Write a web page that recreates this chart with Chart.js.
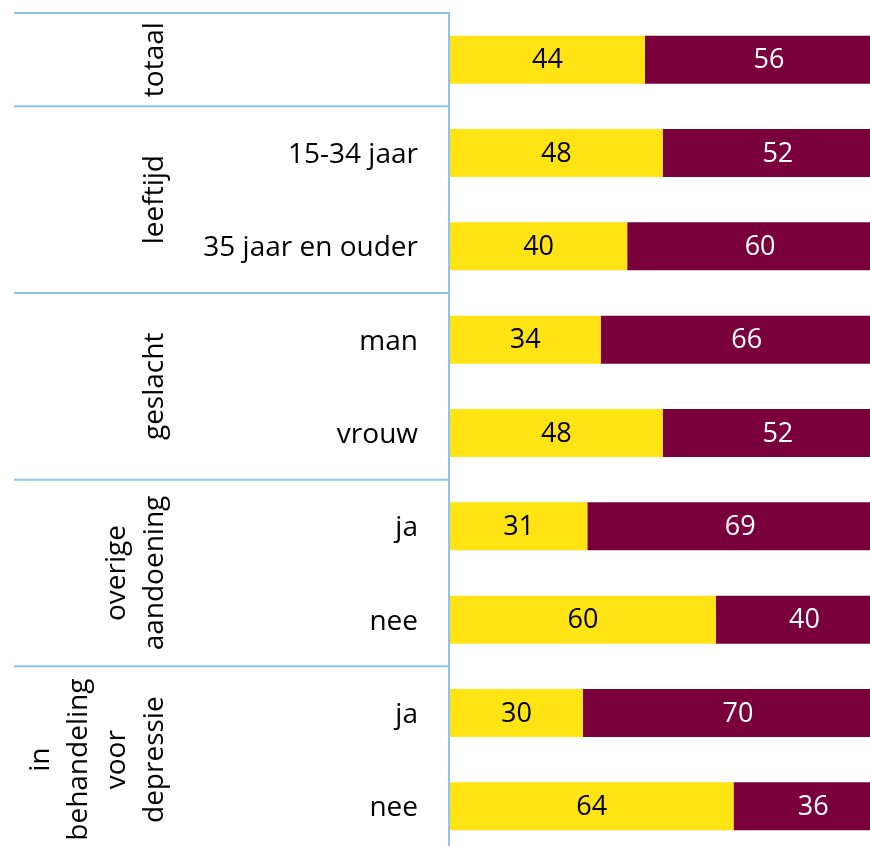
<!DOCTYPE html>
<html>
<head>
<meta charset="utf-8">
<script src="https://cdn.jsdelivr.net/npm/chart.js@4/dist/chart.umd.min.js"></script>
<style>
  html, body { margin: 0; padding: 0; overflow: hidden; background: #fff; }
  #wrap { width: 870px; height: 846px; overflow: hidden; }
</style>
</head>
<body>
<div id="wrap"><canvas id="chart" width="900" height="860"></canvas></div>
<script>
// Data
const categories = ["", "15-34 jaar", "35 jaar en ouder", "man", "vrouw", "ja", "nee", "ja", "nee"];
const yellowValues = [44, 48, 40, 34, 48, 31, 60, 30, 64];
const maroonValues = [56, 52, 60, 66, 52, 69, 40, 70, 36];
const groupLabels = [["totaal"], ["leeftijd"], ["geslacht"], ["overige", "aandoening"], ["in", "behandeling", "voor", "depressie"]];
const groupSizes = [1, 2, 2, 2, 2];

const FONT = "'Open Sans', sans-serif";
const BLUE = "#8cc4ee";

// Waarden in het midden van de balken
const valueLabels = {
  id: "valueLabels",
  afterDatasetsDraw(chart) {
    const ctx = chart.ctx;
    ctx.save();
    ctx.font = "27px " + FONT;
    ctx.textAlign = "center";
    ctx.textBaseline = "middle";
    chart.data.datasets.forEach((ds, i) => {
      const meta = chart.getDatasetMeta(i);
      ctx.fillStyle = ds.labelColor;
      meta.data.forEach((el, j) => {
        ctx.fillText(String(ds.data[j]), (el.x + el.base) / 2, el.y + 1);
      });
    });
    ctx.restore();
  }
};

// Categorie- en groepslabels, scheidingslijnen links
const leftSide = {
  id: "leftSide",
  afterDraw(chart) {
    const ctx = chart.ctx;
    const y = chart.scales.y;
    const area = chart.chartArea;
    const step = (area.bottom - area.top) / categories.length;
    ctx.save();
    ctx.strokeStyle = BLUE;
    ctx.lineWidth = 2;
    // verticale as
    ctx.beginPath();
    ctx.moveTo(area.left - 1, area.top - 1);
    ctx.lineTo(area.left - 1, chart.height);
    ctx.stroke();

    ctx.fillStyle = "#000";
    ctx.font = "28px " + FONT;
    ctx.textBaseline = "middle";
    ctx.textAlign = "right";
    categories.forEach((c, i) => {
      ctx.fillText(c, 418, y.getPixelForValue(i) + 2);
    });

    ctx.textAlign = "center";
    let start = 0;
    groupSizes.forEach((size, g) => {
      const top = area.top + start * step;
      ctx.beginPath();
      ctx.moveTo(14, top);
      ctx.lineTo(area.left, top);
      ctx.stroke();
      const mid = top + size * step / 2;
      const lines = groupLabels[g];
      lines.forEach((txt, k) => {
        const x = 155 - (lines.length - 1 - k) * 38;
        ctx.save();
        ctx.translate(x, mid);
        ctx.rotate(-Math.PI / 2);
        ctx.fillText(txt, 0, 0);
        ctx.restore();
      });
      start += size;
    });
    ctx.restore();
  }
};

new Chart(document.getElementById("chart"), {
  type: "bar",
  data: {
    labels: categories,
    datasets: [
      { data: yellowValues, backgroundColor: "#ffe312", labelColor: "#000" },
      { data: maroonValues, backgroundColor: "#7a003c", labelColor: "#fff" }
    ]
  },
  options: {
    indexAxis: "y",
    responsive: false,
    animation: false,
    categoryPercentage: 1,
    barPercentage: 0.515,
    layout: { padding: { left: 450, top: 13, right: 7, bottom: 7 } },
    plugins: { legend: { display: false }, tooltip: { enabled: false } },
    scales: {
      x: { stacked: true, min: 0, max: 100, display: false },
      y: { stacked: true, display: false }
    }
  },
  plugins: [valueLabels, leftSide]
});
</script>
</body>
</html>
